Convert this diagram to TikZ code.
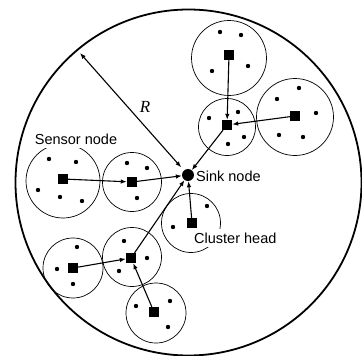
\documentclass[tikz,border=0pt]{standalone}
\usepackage{fontspec}
\setmainfont{Liberation Sans}
\newfontfamily\rfont{Liberation Serif}
\usetikzlibrary{arrows.meta}
\begin{document}
\begin{tikzpicture}[x=1pt,y=-1pt,
  clus/.style={circle, draw, line width=0.7pt, inner sep=0pt},
  head/.style={rectangle, fill=black, minimum size=10pt, inner sep=0pt},
  arr/.style={line width=1.1pt, -{Latex[length=6pt,width=4.5pt]}},
  lbl/.style={font=\fontsize{14.5}{17}\selectfont, fill=white, inner xsep=1pt, inner ysep=4pt},
  dot/.style={fill=black}]
\useasboundingbox (0,0) rectangle (362,356);
% outer region
\draw[line width=1.8pt] (188.5,182.5) circle (173);
% clusters
\node[clus, minimum size=75pt] (cA) at (229,58) {};
\node[clus, minimum size=57pt] (cB) at (227,127) {};
\node[clus, minimum size=77pt] (cC) at (295,117) {};
\node[clus, minimum size=74pt] (cD) at (63,181) {};
\node[clus, minimum size=59pt] (cF) at (132,182) {};
\node[clus, minimum size=59pt] (cE) at (191,223) {};
\node[clus, minimum size=60pt] (cG) at (73,268) {};
\node[clus, minimum size=59pt] (cH) at (132,257) {};
\node[clus, minimum size=60pt] (cI) at (156,313) {};
% sensor dots
\foreach \p in {(220,32),(241,35),(212,71),(248,66),
  (209,118),(238,112),(244,137),(228,144),
  (277,99),(299,88),(316,113),(279,135),(303,137),
  (49,159),(76,162),(38,190),(60,197),(82,201),
  (127,163),(147,168),(137,198),
  (207,206),(173,227),
  (77,247),(57,269),(73,284),
  (124,241),(147,258),(119,271),
  (136,306),(170,301),(168,327)}
  \fill[dot] \p circle (2.2);
% cluster heads
\node[head] (hA) at (229,55) {};
\node[head] (hB) at (227,125) {};
\node[head] (hC) at (295,116) {};
\node[head] (hD) at (63,179) {};
\node[head] (hF) at (132,182) {};
\node[head] (hE) at (192,223) {};
\node[head] (hG) at (73,268) {};
\node[head] (hH) at (131,258) {};
\node[head] (hI) at (154,312) {};
% sink
\node[circle, fill=black, minimum size=12pt, inner sep=0pt] (sink) at (188,175) {};
% labels
\node[lbl] (tSensor) at (76,139) {Sensor node};
\node[lbl, anchor=west] (tSink) at (195,176) {Sink node};
\node[lbl, anchor=west] (tHead) at (193,238) {Cluster head};
\node[font=\rfont\itshape\fontsize{17}{20}\selectfont] (tR) at (145,107) {R};
% arrows
\draw[arr] (hA) -- (hB);
\draw[arr] (hC) -- (hB);
\draw[arr] (hB) -- (sink);
\draw[arr] (hD) -- (hF);
\draw[arr] (hF) -- (sink);
\draw[arr] (hE) -- (sink);
\draw[arr] (hG) -- (hH);
\draw[arr] (hI) -- (hH);
\draw[arr] (hH) -- (sink);
% radius
\coordinate (rim) at (80,53);
\draw[line width=1.1pt, {Latex[length=6pt,width=4.5pt]}-{Latex[length=6pt,width=4.5pt]}, shorten >=4pt] (rim) -- (sink);
\end{tikzpicture}
\end{document}
